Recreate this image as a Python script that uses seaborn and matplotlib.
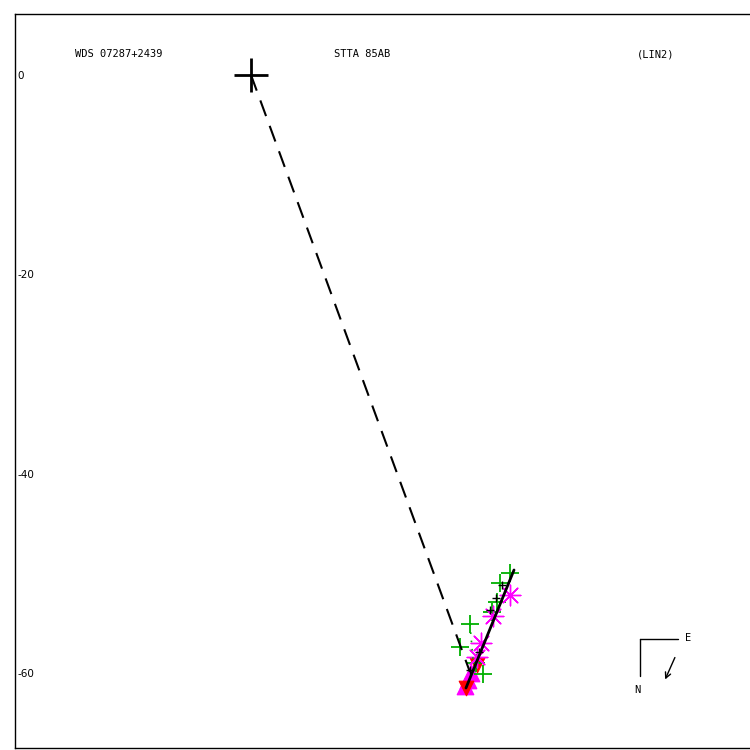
import matplotlib
matplotlib.use('Agg')
import matplotlib.pyplot as plt
import seaborn as sns
import pandas as pd

#### data (arcsec offsets, primary at origin)
green_x = [21.97, 25.99, 24.98, 24.68, 24.18, 20.97, 22.57, 23.28]
green_y = [-55.08, -49.97, -50.97, -52.87, -53.88, -57.39, -58.99, -60.10]
mag_x = [25.99, 24.28, 23.08, 22.67]
mag_y = [-52.17, -54.28, -56.99, -58.39]
red_x = [22.67, 21.57]
red_y = [-59.20, -61.51]
magtri_x = [22.07, 21.77, 21.47]
magtri_y = [-60.00, -60.70, -61.30]
blk_x = [25.18, 24.58, 23.98, 22.88, 21.97]
blk_y = [-51.17, -52.47, -53.68, -57.89, -59.70]
fit_x = [26.39, 21.57]
fit_y = [-49.66, -61.50]
link_x = [0.0, 21.97]
link_y = [0.0, -59.9]
oc_x = [21.97, 22.27]
oc_y = [-55.08, -58.6]
yticks = [0, -20, -40, -60]

sns.set_style('white')
plt.rcParams['text.color'] = 'black'
plt.rcParams['ytick.color'] = 'black'
fig = plt.figure(figsize=(7.5, 7.5), dpi=100)
ax = fig.add_axes([15/750, 2/750, 737/750, 734/750])

ax.plot(link_x, link_y, color='black', lw=1.5, ls=(0, (8, 5)))
ax.plot(oc_x, oc_y, color='#00b000', lw=1.2, ls=(0, (1, 4)))
ax.plot(fit_x, fit_y, color='black', lw=2)

sns.scatterplot(x=magtri_x, y=magtri_y, marker='^', s=140, color='magenta', edgecolor='magenta', ax=ax)
sns.scatterplot(x=red_x, y=red_y, marker='v', s=110, color='red', edgecolor='red', ax=ax)
sns.scatterplot(x=green_x, y=green_y, marker='+', s=180, color='#00b000', linewidth=1.3, ax=ax)
sns.scatterplot(x=mag_x, y=mag_y, marker=(8, 2, 0), s=220, color='magenta', linewidth=1.0, ax=ax)
sns.scatterplot(x=blk_x, y=blk_y, marker='+', s=40, color='black', linewidth=1.0, ax=ax)
ax.plot([0], [0], marker='+', ms=25, mew=2, color='black')

ax.set_xlim(-23.68, 50.27)
ax.set_ylim(-67.52, 6.12)
ax.set_xticks([])
ax.set_yticks(yticks)
ax.set_yticklabels([str(v) for v in yticks])
ax.tick_params(axis='y', length=0, pad=-2, labelsize=7.5, labelcolor='black')
for lab in ax.get_yticklabels():
    lab.set_horizontalalignment('left')
for sp in ax.spines.values():
    sp.set_color('black')
    sp.set_linewidth(1)

mono = 'DejaVu Sans Mono'
ax.text(0.0814, 0.9455, 'WDS 07287+2439', transform=ax.transAxes, ha='left', va='center', fontsize=7.5, family=mono, color='black')
ax.text(0.4708, 0.9455, 'STTA 85AB', transform=ax.transAxes, ha='center', va='center', fontsize=7.5, family=mono, color='black')
ax.text(0.8697, 0.9455, '(LIN2)', transform=ax.transAxes, ha='center', va='center', fontsize=7.5, family=mono, color='black')

# compass
ax.plot([0.848, 0.8996], [0.1485, 0.1485], transform=ax.transAxes, color='black', lw=1)
ax.plot([0.848, 0.848], [0.1485, 0.098], transform=ax.transAxes, color='black', lw=1)
ax.text(0.9132, 0.150, 'E', transform=ax.transAxes, ha='center', va='center', fontsize=7.5, family=mono, color='black')
ax.text(0.844, 0.079, 'N', transform=ax.transAxes, ha='center', va='center', fontsize=7.5, family=mono, color='black')
ax.annotate('', xy=(0.8806, 0.0899), xytext=(0.8969, 0.1267), xycoords='axes fraction',
            arrowprops=dict(arrowstyle='->', color='black', lw=1))

fig.savefig('out.png', dpi=100)
